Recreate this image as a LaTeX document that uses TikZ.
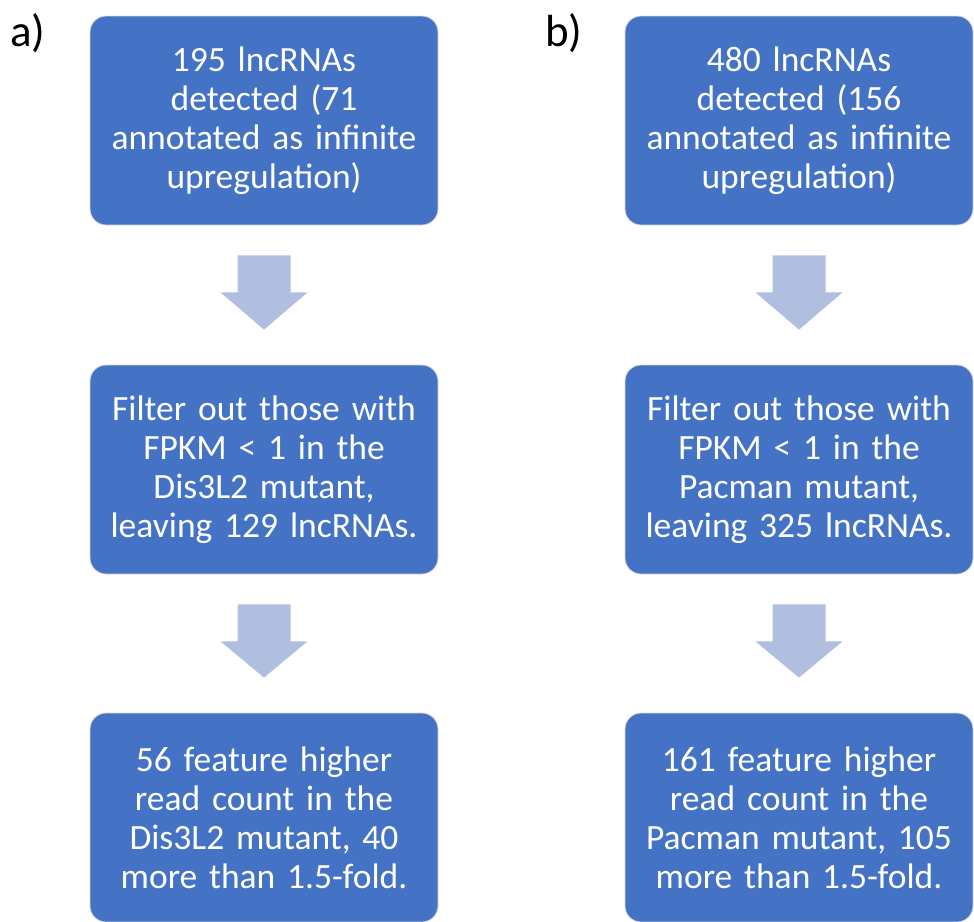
\documentclass[tikz,border=0pt]{standalone}
\usepackage{fontspec}
\setmainfont{Carlito}
\usetikzlibrary{calc}
\definecolor{boxblue}{HTML}{4472C4}
\definecolor{arrowblue}{HTML}{B0BFE0}
\definecolor{boxedge}{HTML}{D9D9D9}
\newcommand{\flowarrow}[2]{%
  \fill[arrowblue] ($(#1.south)+(-26.5,30)$) -- ($(#1.south)+(26.5,30)$)
    -- ($(#1.south)+(26.5,67)$) -- ($(#1.south)+(43.5,67)$)
    -- ($(#2.north)+(0,-35)$)
    -- ($(#1.south)+(-43.5,67)$) -- ($(#1.south)+(-26.5,67)$) -- cycle;}
\begin{document}
\begin{tikzpicture}[x=1pt,y=-1pt,
  box/.style={rectangle, rounded corners=16pt, fill=boxblue, draw=boxedge,
    line width=0.8pt, minimum width=348pt, minimum height=209pt,
    text width=340pt, align=center, text=white, inner sep=0pt,
    font=\fontsize{35.5}{39}\selectfont},
  lbl/.style={font=\fontsize{45}{50}\selectfont, text=black, anchor=base west, inner sep=0pt}]
\useasboundingbox (0,0) rectangle (974,921);

\node[lbl] (la) at (10,46) {a)};
\node[lbl] (lb) at (545,46) {b)};

\node[box] (a1) at (264,120.5) {195 lncRNAs\\detected (71\\annotated as infinite\\upregulation)};
\node[box] (a2) at (264,469.5) {Filter out those with\\FPKM < 1 in the\\Dis3L2 mutant,\\leaving 129 lncRNAs.};
\node[box] (a3) at (264,817.5) {56 feature higher\\read count in the\\Dis3L2 mutant, 40\\more than 1.5-fold.};

\node[box] (b1) at (799,120.5) {480 lncRNAs\\detected (156\\annotated as infinite\\upregulation)};
\node[box] (b2) at (799,469.5) {Filter out those with\\FPKM < 1 in the\\Pacman mutant,\\leaving 325 lncRNAs.};
\node[box] (b3) at (799,817.5) {161 feature higher\\read count in the\\Pacman mutant, 105\\more than 1.5-fold.};

\flowarrow{a1}{a2}
\flowarrow{a2}{a3}
\flowarrow{b1}{b2}
\flowarrow{b2}{b3}
\end{tikzpicture}
\end{document}
